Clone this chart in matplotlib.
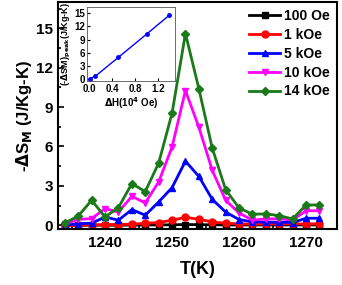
import matplotlib
matplotlib.use('Agg')
import matplotlib.pyplot as plt
from matplotlib.ticker import MultipleLocator

plt.rcParams['font.family'] = ['Liberation Sans', 'DejaVu Sans']
plt.rcParams['font.weight'] = 'bold'
plt.rcParams['mathtext.default'] = 'bf'

# temperature (K)
T = [1234, 1236, 1238, 1240, 1242, 1244, 1246, 1248, 1250, 1252,
     1254, 1256, 1258, 1260, 1262, 1264, 1266, 1268, 1270, 1272]

# -dS_M (J/Kg-K) for each field
s100 = [0.0, 0.0, 0.0, 0.0, 0.0, 0.01, 0.02, 0.02, 0.03, 0.05,
        0.04, 0.03, 0.02, 0.02, 0.02, 0.02, 0.02, 0.02, 0.02, 0.02]
s1k = [-0.05, 0.0, 0.02, 0.05, 0.05, 0.08, 0.15, 0.2, 0.38, 0.6,
       0.45, 0.25, 0.15, 0.1, 0.08, 0.1, 0.1, 0.1, 0.1, 0.1]
s5k = [0.0, 0.12, 0.15, 0.63, 0.38, 1.19, 0.76, 1.77, 2.86, 4.88,
       3.72, 1.97, 1.0, 0.43, 0.25, 0.23, 0.23, 0.2, 0.53, 0.53]
s10k = [0.08, 0.45, 0.5, 1.27, 1.0, 2.2, 1.7, 3.29, 5.95, 10.25,
        7.47, 4.18, 1.9, 0.93, 0.38, 0.48, 0.48, 0.4, 1.1, 1.1]
s14k = [0.17, 0.7, 1.9, 0.63, 1.34, 3.17, 2.56, 4.73, 8.53, 14.6,
        10.4, 5.87, 2.71, 1.31, 0.84, 0.86, 0.73, 0.48, 1.54, 1.54]

# inset: peak value vs field (10^4 Oe)
dH = [0.01, 0.1, 0.5, 1.0, 1.4]
peak = [0.05, 0.6, 4.88, 10.25, 14.6]

fig = plt.figure(figsize=(3.42, 2.85), dpi=100)
ax = fig.add_axes([0.170, 0.196, 0.815, 0.797])

ax.plot(T, s100, color='black', marker='s', ms=4, lw=2, label='100 Oe')
ax.plot(T, s1k, color='red', marker='o', ms=5, lw=2, label='1 kOe')
ax.plot(T, s5k, color='blue', marker='^', ms=5, lw=2, label='5 kOe')
ax.plot(T, s10k, color='magenta', marker='v', ms=5, lw=2, label='10 kOe')
ax.plot(T, s14k, color='#1a7a1a', marker='D', ms=4.5, lw=2, label='14 kOe')

ax.set_xlim(1233, 1274.6)
ax.set_ylim(-0.3, 17)
ax.xaxis.set_major_locator(MultipleLocator(10))
ax.xaxis.set_minor_locator(MultipleLocator(5))
ax.yaxis.set_major_locator(MultipleLocator(3))
ax.yaxis.set_minor_locator(MultipleLocator(1.5))
ax.tick_params(which='both', direction='in', labelsize=11, width=1.2)
ax.tick_params(which='major', length=4)
ax.tick_params(which='minor', length=2)
ax.tick_params(axis='x', pad=5)
for sp in ax.spines.values():
    sp.set_linewidth(1.5)
ax.set_xlabel('T(K)', fontsize=13, fontweight='bold', labelpad=8)
ax.set_ylabel(r'-$\Delta$S$_M$ (J/Kg-K)', fontsize=12, fontweight='bold', labelpad=2)

leg = ax.legend(loc='upper right', frameon=False, fontsize=10, handlelength=2.2,
                handletextpad=0.3, labelspacing=0.35, borderaxespad=0.1)

# inset
ins = fig.add_axes([0.254, 0.716, 0.258, 0.26])
ins.plot(dH, peak, color='blue', marker='o', ms=2.5, lw=1)
ins.set_xlim(-0.05, 1.5)
ins.set_ylim(-0.5, 16.5)
ins.xaxis.set_major_locator(MultipleLocator(0.4))
ins.yaxis.set_major_locator(MultipleLocator(3))
ins.tick_params(direction='in', labelsize=7, length=2, pad=1)
ins.tick_params(axis='x', pad=2)
for sp in ins.spines.values():
    sp.set_linewidth(0.6)
    sp.set_color('#555555')
ins.set_xlabel(r'$\Delta$H(10$^4$ Oe)', fontsize=7, fontweight='bold', labelpad=1)
ins.set_ylabel(r'(-$\Delta$SM)$_{peak}$(J/Kg-K)', fontsize=6.5, fontweight='bold', labelpad=1)

fig.savefig('out.png', dpi=100)
